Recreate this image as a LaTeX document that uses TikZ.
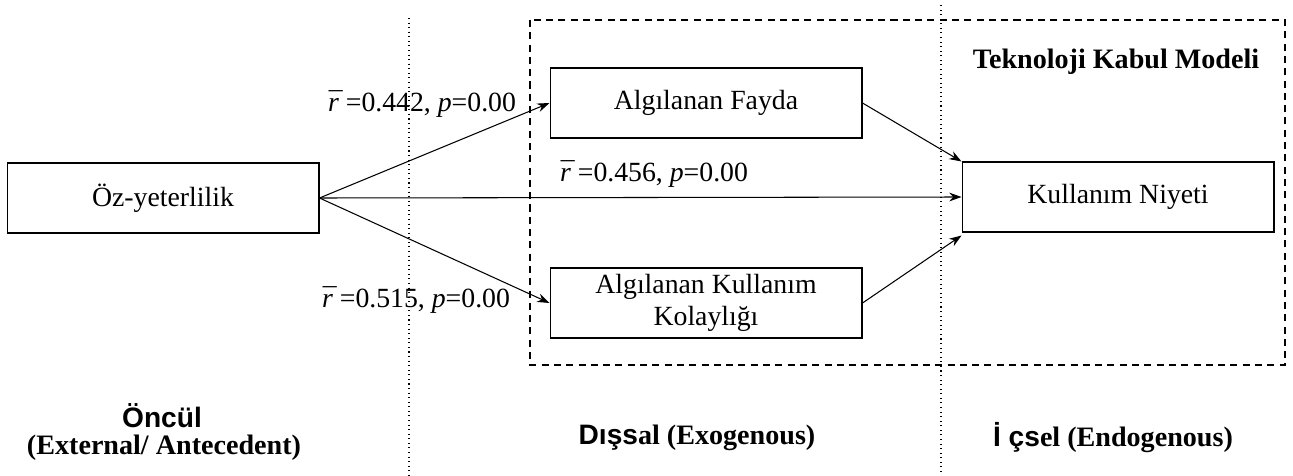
\documentclass[tikz,border=0pt]{standalone}
\usepackage{fontspec}
\setmainfont{Liberation Serif}
\setsansfont{Liberation Sans}
\usepackage{tikz}
\usetikzlibrary{arrows.meta}

\newcommand{\rbar}{\textit{\accent"00AF r}}

\tikzset{
	box/.style={draw, line width=0.6pt, minimum width=6.24cm, minimum height=1.4cm, align=center},
	link/.style={-{Stealth[length=7pt, width=5pt]}, line width=0.6pt},
	lbl/.style={inner sep=0pt}
}

\begin{document}
\begin{tikzpicture}[x=0.02cm, y=-0.02cm, font=\fontsize{15.8}{18.5}\selectfont]
		\useasboundingbox (0, 0) rectangle (1293, 476);

		% region borders
		\draw[dotted, line width=0.6pt] (409, 18) -- (409, 476);
		\draw[dotted, line width=0.6pt] (941, 5) -- (941, 476);
		\draw[dash pattern=on 4pt off 3pt, line width=0.6pt] (530, 20) rectangle (1285, 365);

		\node[box] at (163, 198) (oz) {Öz-yeterlilik};
		\node[box] at (706, 103) (fayda) {Algılanan Fayda};
		\node[box] at (706, 303) (kolay) {Algılanan Kullanım\\Kolaylığı};
		\node[box] at (1118, 197) (niyet) {Kullanım Niyeti};

		\draw[link] (oz.east) -- (fayda.west);
		\draw[link] (oz.east) -- (kolay.west);
		\draw[link] (oz.east) -- (niyet.west);
		\draw[link] (fayda.east) -- (niyet.north west);
		\draw[link] (kolay.east) -- ([yshift=-0.06cm]niyet.south west);

		\node[lbl] at (422, 104) (r1) {\rbar{} =0.442, \textit{p}=0.00};
		\node[lbl] at (654, 174) (r2) {\rbar{} =0.456, \textit{p}=0.00};
		\node[lbl] at (416, 300) (r3) {\rbar{} =0.515, \textit{p}=0.00};

		\node[lbl, font=\fontsize{16}{18.5}\selectfont\bfseries] at (1116, 62) (tkm) {Teknoloji Kabul Modeli};

		\node[lbl, font=\fontsize{16}{18.5}\selectfont\bfseries\sffamily] at (162, 416) (oncul) {Öncül};
		\node[lbl, font=\fontsize{16}{18.5}\selectfont\bfseries] at (164, 448) (ext) {(External/ Antecedent)};
		\node[lbl, font=\fontsize{16}{18.5}\selectfont\bfseries] at (697, 438) (dis) {{\sffamily Dışs}al (Exogenous)};
		\node[lbl, font=\fontsize{16}{18.5}\selectfont\bfseries] at (1113, 438) (ic) {{\sffamily İ çs}el (Endogenous)};
	\end{tikzpicture}
\end{document}
